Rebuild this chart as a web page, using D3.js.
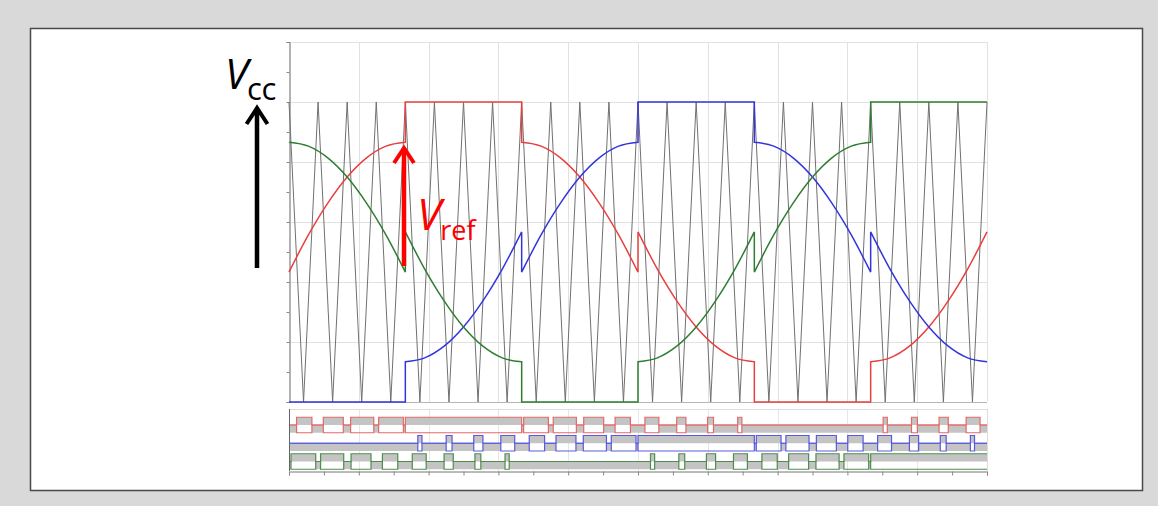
<!DOCTYPE html>
<html lang="en">
<head>
<meta charset="UTF-8" />
<title>DPWM carrier comparison</title>
<script src="https://cdn.jsdelivr.net/npm/d3@7"></script>
<style>
  body { margin: 0; background: #d9d9d9; font-family: "Open Sans", sans-serif; }
</style>
</head>
<body>
<script>
// triangle carrier, one vertex every 7.5 deg (24 periods over 360 deg)
var carrierStep = 7.5;
var carrier = [1,0,1,0,1,0,1,0,1,0,1,0,1,0,1,0,1,0,1,0,1,0,1,0,1,
               0,1,0,1,0,1,0,1,0,1,0,1,0,1,0,1,0,1,0,1,0,1,0,1];

// references, 6 sectors of 60 deg, a sample every 10 deg in each sector
var refRed = [
  [0.433, 0.557, 0.663, 0.750, 0.814, 0.853, 0.866],
  [1, 1, 1, 1, 1, 1, 1],
  [0.866, 0.853, 0.814, 0.750, 0.663, 0.557, 0.433],
  [0.567, 0.443, 0.337, 0.250, 0.186, 0.147, 0.134],
  [0, 0, 0, 0, 0, 0, 0],
  [0.134, 0.147, 0.186, 0.250, 0.337, 0.443, 0.567]
];
var refBlue = [
  [0, 0, 0, 0, 0, 0, 0],
  [0.134, 0.147, 0.186, 0.250, 0.337, 0.443, 0.567],
  [0.433, 0.557, 0.663, 0.750, 0.814, 0.853, 0.866],
  [1, 1, 1, 1, 1, 1, 1],
  [0.866, 0.853, 0.814, 0.750, 0.663, 0.557, 0.433],
  [0.567, 0.443, 0.337, 0.250, 0.186, 0.147, 0.134]
];
var refGreen = [
  [0.866, 0.853, 0.814, 0.750, 0.663, 0.557, 0.433],
  [0.567, 0.443, 0.337, 0.250, 0.186, 0.147, 0.134],
  [0, 0, 0, 0, 0, 0, 0],
  [0.134, 0.147, 0.186, 0.250, 0.337, 0.443, 0.567],
  [0.433, 0.557, 0.663, 0.750, 0.814, 0.853, 0.866],
  [1, 1, 1, 1, 1, 1, 1]
];

var phases = [
  { name: "red",   ref: refRed,   line: "#e8403f", gate: "#e36a6a" },
  { name: "blue",  ref: refBlue,  line: "#3434dd", gate: "#5a5ae0" },
  { name: "green", ref: refGreen, line: "#2f7d32", gate: "#4f8d4f" }
];

var W = 1158, H = 506;

var svg = d3.select("body").append("svg")
  .attr("width", W)
  .attr("height", H)
  .style("display", "block");

// white card
svg.append("rect")
  .attr("x", 30.5).attr("y", 28.5)
  .attr("width", 1112).attr("height", 462)
  .attr("fill", "#fff")
  .attr("stroke", "#4a4a4a")
  .attr("stroke-width", 1.5);

var xScale = d3.scaleLinear().domain([0, 360]).range([289, 987]);
var yScale = d3.scaleLinear().domain([0, 1.2]).range([402, 42]);

// ---- main plot ----
var plot = svg.append("g");

plot.selectAll(".hgrid")
  .data(d3.range(0, 1.21, 0.2))
  .enter().append("line")
  .attr("x1", xScale(0)).attr("x2", xScale(360))
  .attr("y1", function(d) { return Math.round(yScale(d)) + 0.5; })
  .attr("y2", function(d) { return Math.round(yScale(d)) + 0.5; })
  .attr("stroke", "#e2e2e2");

plot.selectAll(".vgrid")
  .data(d3.range(36, 361, 36))
  .enter().append("line")
  .attr("y1", yScale(1.2)).attr("y2", yScale(0))
  .attr("x1", function(d) { return Math.round(xScale(d)) + 0.5; })
  .attr("x2", function(d) { return Math.round(xScale(d)) + 0.5; })
  .attr("stroke", "#e2e2e2");

var yAxis = d3.axisLeft(yScale)
  .tickValues(d3.range(0, 1.21, 0.1))
  .tickSize(3)
  .tickFormat("");

plot.append("g")
  .attr("transform", "translate(" + (xScale(0) + 0.5) + ",0)")
  .call(yAxis)
  .call(function(g) {
    g.select(".domain").attr("stroke", "#666");
    g.selectAll(".tick line").attr("stroke", "#888");
  });

plot.append("line")
  .attr("x1", xScale(0)).attr("x2", xScale(360))
  .attr("y1", yScale(0) + 0.5).attr("y2", yScale(0) + 0.5)
  .attr("stroke", "#b5b5b5");

// carrier
var carrierLine = d3.line()
  .x(function(d, i) { return xScale(i * carrierStep); })
  .y(function(d) { return yScale(d); });

plot.append("path")
  .datum(carrier)
  .attr("d", carrierLine)
  .attr("fill", "none")
  .attr("stroke", "#707070")
  .attr("stroke-width", 1);

// references: each sector drawn smooth, sectors joined by vertical jumps
var sectorLine = d3.line()
  .x(function(d) { return xScale(d[0]); })
  .y(function(d) { return yScale(d[1]); })
  .curve(d3.curveMonotoneX);

function refPath(ref) {
  var out = "";
  ref.forEach(function(sector, s) {
    var pts = sector.map(function(v, k) { return [s * 60 + k * 10, v]; });
    var p = sectorLine(pts);
    out += (s === 0) ? p : "L" + p.slice(1);
  });
  return out;
}

phases.forEach(function(ph) {
  plot.append("path")
    .attr("d", refPath(ph.ref))
    .attr("fill", "none")
    .attr("stroke", ph.line)
    .attr("stroke-width", 1.5);
});

// ---- gate signals panel ----
function refAt(ref, t) {
  var s = Math.min(5, Math.floor(t / 60));
  var u = (t - s * 60) / 10;
  var k = Math.min(5, Math.floor(u));
  return ref[s][k] + (ref[s][k + 1] - ref[s][k]) * (u - k);
}
function carrierAt(t) {
  var k = Math.min(carrier.length - 2, Math.floor(t / carrierStep));
  var u = t / carrierStep - k;
  return carrier[k] + (carrier[k + 1] - carrier[k]) * u;
}
// comparator: upper switch on while reference is above carrier
function gateRuns(ref) {
  var runs = [], step = 0.02, cur = null, start = 0;
  for (var t = step / 2; t < 360; t += step) {
    var on = refAt(ref, t) > carrierAt(t);
    if (on !== cur) {
      if (cur !== null) {
        runs.push({ a: start, b: t - step / 2, on: cur });
        start = t - step / 2;
      }
      cur = on;
    }
  }
  runs.push({ a: start, b: 360, on: cur });
  return runs;
}

var panelTop = 409, panelBottom = 471;
var rowScale = d3.scalePoint()
  .domain(phases.map(function(p) { return p.name; }))
  .range([425, 461.5]);
var half = 7.75;

var panel = svg.append("g");

panel.selectAll(".pgrid")
  .data(d3.range(36, 361, 36))
  .enter().append("line")
  .attr("y1", panelTop).attr("y2", panelBottom)
  .attr("x1", function(d) { return Math.round(xScale(d)) + 0.5; })
  .attr("x2", function(d) { return Math.round(xScale(d)) + 0.5; })
  .attr("stroke", "#e6e6e6");

panel.append("line")
  .attr("x1", xScale(0)).attr("x2", xScale(360))
  .attr("y1", panelTop + 0.5).attr("y2", panelTop + 0.5)
  .attr("stroke", "#dcdcdc");

phases.forEach(function(ph) {
  var mid = rowScale(ph.name), hi = mid - half, lo = mid + half;
  var runs = gateRuns(ph.ref);

  panel.selectAll(".fill-" + ph.name)
    .data(runs)
    .enter().append("rect")
    .attr("x", function(d) { return xScale(d.a); })
    .attr("width", function(d) { return xScale(d.b) - xScale(d.a); })
    .attr("y", function(d) { return d.on ? hi : mid; })
    .attr("height", half)
    .attr("fill", "#c4c4c4");

  function stepPath(levelOf) {
    var p = "M" + xScale(0) + "," + levelOf(runs[0]);
    runs.forEach(function(r, i) {
      p += "H" + xScale(r.b);
      if (i < runs.length - 1) p += "V" + levelOf(runs[i + 1]);
    });
    return p;
  }

  panel.append("path")
    .attr("d", stepPath(function(r) { return r.on ? hi : mid; }))
    .attr("fill", "none")
    .attr("stroke", ph.gate)
    .attr("stroke-width", 1.2);

  panel.append("path")
    .attr("d", stepPath(function(r) { return r.on ? lo : mid; }))
    .attr("fill", "none")
    .attr("stroke", ph.gate)
    .attr("stroke-width", 1.2);
});

panel.append("line")
  .attr("x1", xScale(0) + 0.5).attr("x2", xScale(0) + 0.5)
  .attr("y1", panelTop).attr("y2", panelBottom)
  .attr("stroke", "#666");

panel.append("line")
  .attr("x1", xScale(360) + 0.5).attr("x2", xScale(360) + 0.5)
  .attr("y1", panelTop).attr("y2", panelBottom)
  .attr("stroke", "#dcdcdc");

var xAxis = d3.axisBottom(xScale)
  .tickValues(d3.range(0, 361, 18))
  .tickSize(4)
  .tickFormat("");

panel.append("g")
  .attr("transform", "translate(0," + (panelBottom + 0.5) + ")")
  .call(xAxis)
  .call(function(g) {
    g.select(".domain").attr("stroke", "#777");
    g.selectAll(".tick line").attr("stroke", "#888");
  });

// ---- annotations ----
var ann = svg.append("g");

ann.append("line")
  .attr("x1", 257).attr("x2", 257)
  .attr("y1", 268).attr("y2", 108)
  .attr("stroke", "#000").attr("stroke-width", 4.5);
ann.append("polyline")
  .attr("points", "246.5,124 257,108 267.5,124")
  .attr("fill", "none")
  .attr("stroke", "#000").attr("stroke-width", 4);

var vcc = ann.append("text")
  .attr("x", 225).attr("y", 89)
  .attr("fill", "#000");
vcc.append("tspan").attr("font-style", "italic").attr("font-size", 42).text("V");
vcc.append("tspan").attr("font-size", 31).attr("dy", 11).attr("dx", -1)
  .attr("letter-spacing", -0.5).text("cc");

ann.append("line")
  .attr("x1", 404).attr("x2", 404)
  .attr("y1", 266).attr("y2", 148)
  .attr("stroke", "#ff0000").attr("stroke-width", 4.5);
ann.append("polyline")
  .attr("points", "394,163 404,148 414,163")
  .attr("fill", "none")
  .attr("stroke", "#ff0000").attr("stroke-width", 4);

var vref = ann.append("text")
  .attr("x", 417).attr("y", 230)
  .attr("fill", "#ff0000");
vref.append("tspan").attr("font-style", "italic").attr("font-size", 44).text("V");
vref.append("tspan").attr("font-size", 27).attr("dy", 10).attr("dx", -1).text("ref");
</script>
</body>
</html>
